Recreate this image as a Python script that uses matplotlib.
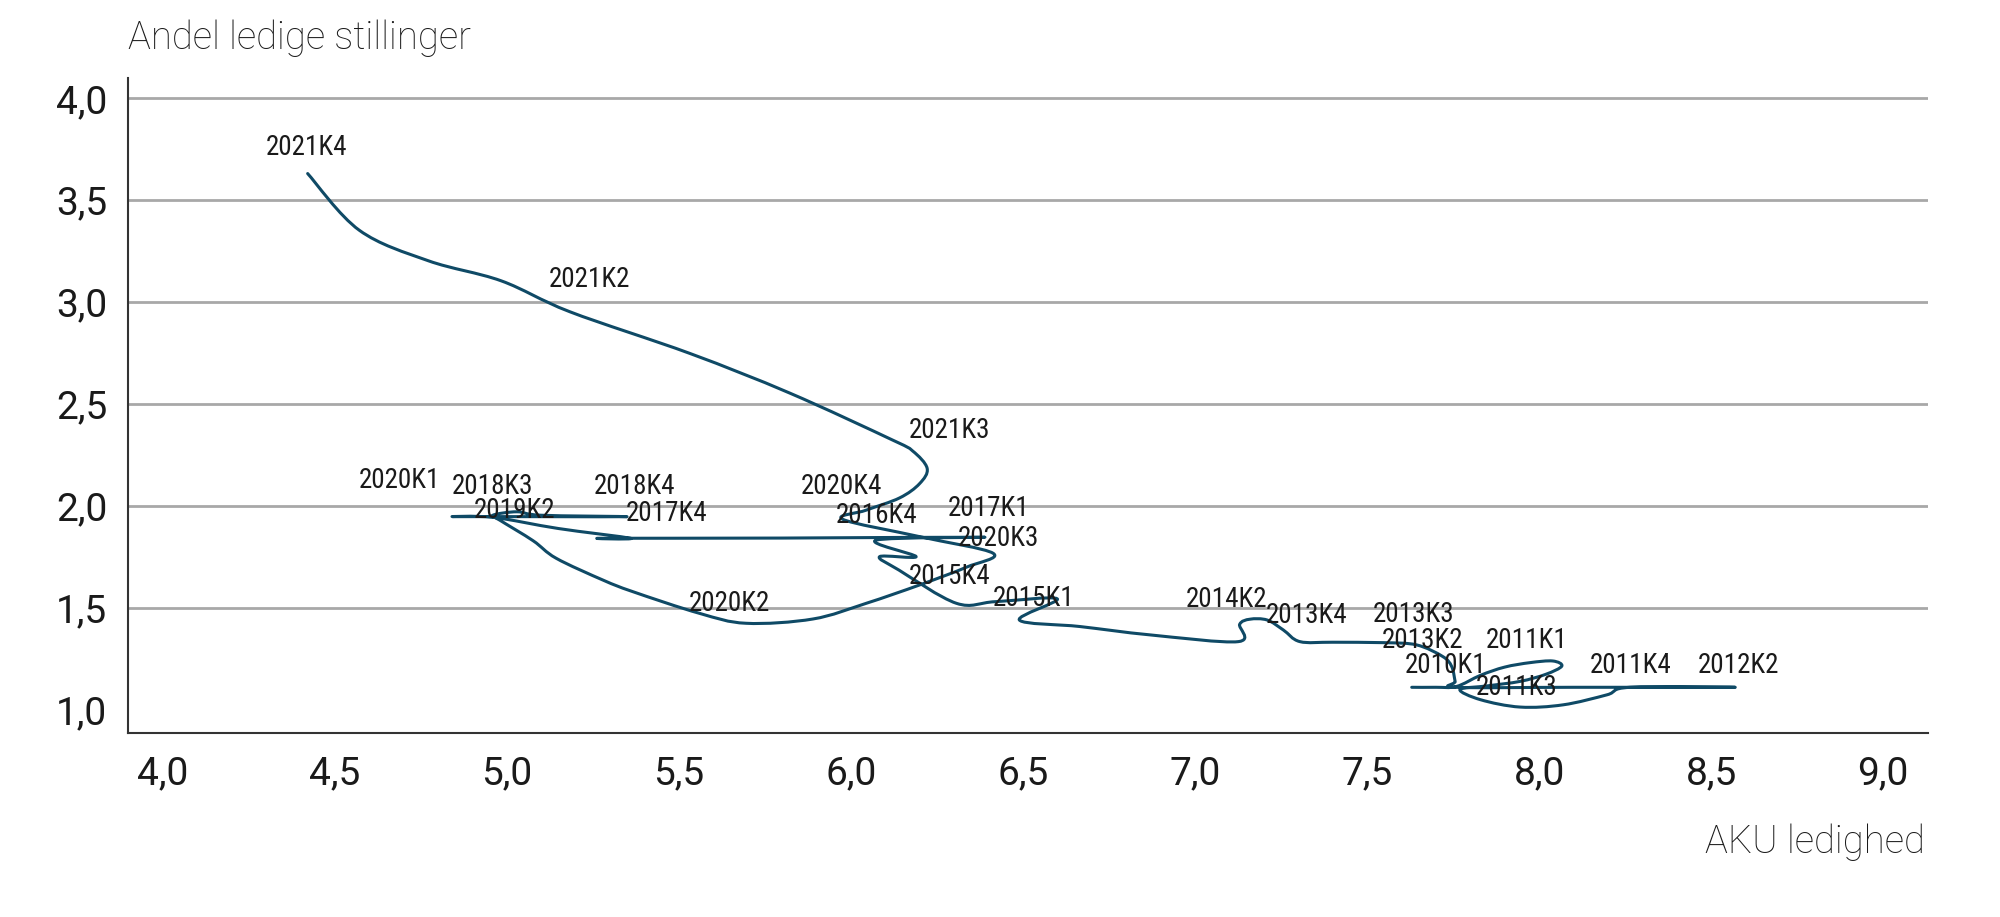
import numpy as np
import matplotlib
matplotlib.use("Agg")
import matplotlib.pyplot as plt
from matplotlib.path import Path
from matplotlib.patches import PathPatch
from matplotlib import font_manager

# traced path of the series (AKU ledighed, andel ledige stillinger)
aku = [7.63, 7.70, 7.76, 7.83, 7.90, 7.974, 8.04, 8.066, 8.02, 7.945, 7.85, 7.77,
       7.83, 7.945, 8.07, 8.197, 8.265, 8.57, 8.10, 7.76, 7.756, 7.746, 7.72, 7.644,
       7.547, 7.40, 7.305, 7.257, 7.21, 7.16, 7.13, 7.126, 6.87, 6.666, 6.49, 6.60,
       6.42, 6.307, 6.14, 6.084, 6.19, 6.074, 6.39, 5.80, 5.28, 5.36, 5.15, 4.96,
       4.845, 5.10, 5.35, 5.10, 5.03, 4.96, 4.98, 5.077, 5.144, 5.28, 5.367, 5.56,
       5.696, 5.89, 6.045, 6.20, 6.336, 6.414, 6.20, 5.977, 6.045, 6.142, 6.20, 6.222,
       6.18, 6.12, 5.823, 5.532, 5.184, 4.984, 4.773, 4.572, 4.422]
ledige = [1.111, 1.111, 1.115, 1.17, 1.21, 1.232, 1.240, 1.215, 1.175, 1.140, 1.118, 1.10,
          1.05, 1.014, 1.025, 1.074, 1.111, 1.111, 1.111, 1.111, 1.14, 1.213, 1.262, 1.319,
          1.33, 1.332, 1.335, 1.392, 1.441, 1.445, 1.42, 1.335, 1.368, 1.409, 1.441, 1.545,
          1.531, 1.523, 1.686, 1.752, 1.752, 1.833, 1.847, 1.843, 1.842, 1.842, 1.89, 1.945,
          1.948, 1.948, 1.948, 1.955, 1.972, 1.955, 1.931, 1.83, 1.744, 1.637, 1.58, 1.474,
          1.425, 1.446, 1.523, 1.613, 1.70, 1.768, 1.85, 1.935, 1.98, 2.04, 2.11, 2.185,
          2.27, 2.325, 2.554, 2.749, 2.953, 3.105, 3.203, 3.353, 3.631]

# quarter labels and the points they belong to
kvartal = ["2021K4", "2021K2", "2021K3", "2020K4", "2020K1", "2018K3", "2018K4", "2019K2",
           "2017K4", "2016K4", "2017K1", "2020K3", "2015K4", "2015K1", "2020K2", "2014K2",
           "2013K4", "2013K3", "2013K2", "2011K1", "2010K1", "2011K3", "2011K4", "2012K2"]
kvartal_x = [4.419, 5.24, 6.288, 5.973, 4.689, 4.96, 5.372, 5.023,
             5.464, 6.074, 6.40, 6.43, 6.288, 6.53, 5.648, 7.092,
             7.324, 7.635, 7.66, 7.964, 7.727, 7.935, 8.265, 8.58]
kvartal_y = [3.631, 2.984, 2.246, 1.968, 1.997, 1.971, 1.971, 1.853,
             1.838, 1.829, 1.862, 1.715, 1.527, 1.421, 1.396, 1.416,
             1.339, 1.343, 1.216, 1.216, 1.094, 0.984, 1.094, 1.094]

x_ticks = [4.0, 4.5, 5.0, 5.5, 6.0, 6.5, 7.0, 7.5, 8.0, 8.5, 9.0]
y_ticks = [1.0, 1.5, 2.0, 2.5, 3.0, 3.5, 4.0]

LINE_COLOR = '#0f4a66'
GRID_COLOR = '#a8a8a8'
TEXT_COLOR = '#1a1a1a'

names = {f.name for f in font_manager.fontManager.ttflist}
label_font = 'Roboto Condensed' if 'Roboto Condensed' in names else 'Roboto'
plt.rcParams['font.family'] = ['Roboto', 'DejaVu Sans']


def smooth_path(xs, ys):
    # Catmull-Rom style smoothing, like a smoothed line in a spreadsheet
    pts = np.column_stack([xs, ys])
    verts = [pts[0]]
    codes = [Path.MOVETO]
    n = len(pts)
    for i in range(n - 1):
        p0 = pts[i - 1] if i > 0 else pts[i]
        p1 = pts[i]
        p2 = pts[i + 1]
        p3 = pts[i + 2] if i + 2 < n else pts[i + 1]
        c1 = p1 + (p2 - p0) / 6.0
        c2 = p2 - (p3 - p1) / 6.0
        verts += [c1, c2, p2]
        codes += [Path.CURVE4] * 3
    return Path(verts, codes)


fig = plt.figure(figsize=(20, 9.17), dpi=100)
ax = fig.add_axes([0.064, 0.2007, 0.9, 0.7143])

ax.set_xlim(3.9, 9.13)
ax.set_ylim(0.887, 4.1)

ax.add_patch(PathPatch(smooth_path(aku, ledige), facecolor='none', edgecolor=LINE_COLOR,
                       lw=2.2, capstyle='round', joinstyle='round', zorder=3))

for txt, x, y in zip(kvartal, kvartal_x, kvartal_y):
    ax.annotate(txt, (x, y), xytext=(0, 18.5), textcoords='offset points',
                ha='center', va='center', fontsize=19.5, color=TEXT_COLOR,
                family=label_font, zorder=4)

ax.set_xticks(x_ticks)
ax.set_xticklabels([f"{v:.1f}".replace('.', ',') for v in x_ticks])
ax.set_yticks(y_ticks)
ax.set_yticklabels([f"{v:.1f}".replace('.', ',') for v in y_ticks])
ax.tick_params(axis='both', length=0, labelsize=28, colors=TEXT_COLOR)
ax.tick_params(axis='x', pad=16)
ax.tick_params(axis='y', pad=15)

ax.yaxis.grid(True, color=GRID_COLOR, lw=2.0)
ax.yaxis.get_gridlines()[0].set_visible(False)
ax.set_axisbelow(True)

for side in ['top', 'right']:
    ax.spines[side].set_visible(False)
for side in ['left', 'bottom']:
    ax.spines[side].set_color('#333333')
    ax.spines[side].set_linewidth(1.5)

fig.text(0.064, 1 - 38 / 917, "Andel ledige stillinger", ha='left', va='center',
         fontsize=27.5, fontweight='light', color=TEXT_COLOR)
fig.text(0.9625, 1 - 842 / 917, "AKU ledighed", ha='right', va='center',
         fontsize=27.5, fontweight='light', color=TEXT_COLOR)

fig.savefig('out.png', dpi=100, facecolor='white')
